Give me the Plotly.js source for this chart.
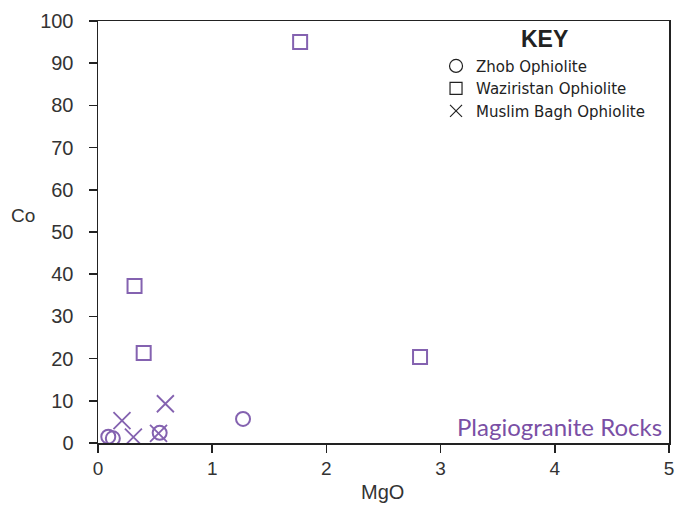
<!DOCTYPE html>
<html>
<head>
<meta charset="utf-8">
<script src="https://cdn.plot.ly/plotly-3.0.1.min.js"></script>
<style>body{margin:0;padding:0;background:#fff;}#chart{width:681px;height:509px;}</style>
</head>
<body>
<div id="chart"></div>
<script>
// Data
const zhobMgO = [0.09, 0.13, 0.54, 1.27];
const zhobCo = [1.5, 1.1, 2.4, 5.7];
const wazMgO = [1.77, 0.32, 0.40, 2.82];
const wazCo = [95, 37.2, 21.3, 20.4];
const muslimMgO = [0.21, 0.59, 0.31, 0.53];
const muslimCo = [5.3, 9.3, 1.4, 2.3];
const seriesNames = ["Zhob Ophiolite", "Waziristan Ophiolite", "Muslim Bagh Ophiolite"];

const purple = "#8462b0";
const markerBase = {color: purple, size: 14, line: {color: purple, width: 2}};

const traces = [
  {x: zhobMgO, y: zhobCo, mode: "markers", type: "scatter", showlegend: false,
   marker: Object.assign({}, markerBase, {symbol: "circle-open"})},
  {x: wazMgO, y: wazCo, mode: "markers", type: "scatter", showlegend: false,
   marker: Object.assign({}, markerBase, {symbol: "square-open", size: 14})},
  {x: muslimMgO, y: muslimCo, mode: "markers", type: "scatter", showlegend: false,
   marker: Object.assign({}, markerBase, {symbol: "x-thin-open", size: 17, line: {color: purple, width: 1.8}})},
  // legend-only entries (black symbols like in the KEY)
  {x: [null], y: [null], mode: "markers", type: "scatter", name: seriesNames[0],
   marker: {symbol: "circle-open", size: 13, color: "#222", line: {color: "#222", width: 1.2}}},
  {x: [null], y: [null], mode: "markers", type: "scatter", name: seriesNames[1],
   marker: {symbol: "square-open", size: 12, color: "#222", line: {color: "#222", width: 1.2}}},
  {x: [null], y: [null], mode: "markers", type: "scatter", name: seriesNames[2],
   marker: {symbol: "x-thin-open", size: 12, color: "#222", line: {color: "#222", width: 1.2}}}
];

const layout = {
  width: 681, height: 509,
  margin: {l: 98, r: 12, t: 21, b: 66},
  paper_bgcolor: "#fff", plot_bgcolor: "#fff",
  font: {family: "Arial, Liberation Sans, sans-serif", color: "#333"},
  xaxis: {range: [0, 5], dtick: 1, showgrid: false, zeroline: false,
    showline: true, linecolor: "#222", linewidth: 1.5, mirror: true,
    ticks: "outside", ticklen: 8, tickcolor: "#222", tickwidth: 1.5,
    tickfont: {size: 19, color: "#333"}},
  yaxis: {range: [0, 100], dtick: 10, showgrid: false, zeroline: false,
    showline: true, linecolor: "#222", linewidth: 1.5, mirror: true,
    ticks: "outside", ticklen: 8, tickcolor: "#222", tickwidth: 1.5,
    ticklabelstandoff: 11,
    tickfont: {size: 20, color: "#333"}},
  legend: {x: 0.592, y: 0.932, xanchor: "left", yanchor: "top",
    bgcolor: "rgba(0,0,0,0)", font: {family: "'DejaVu Sans', sans-serif", size: 15, color: "#222"},
    itemwidth: 30, tracegroupgap: 0},
  annotations: [
    {text: "KEY", xref: "paper", yref: "paper", x: 0.782, y: 0.957, xanchor: "center", yanchor: "middle",
     showarrow: false, font: {family: "Arial, sans-serif", size: 23, color: "#222", weight: "bold"}},
    {text: "Plagiogranite Rocks", xref: "paper", yref: "paper", x: 0.992, y: 0.038, xanchor: "right", yanchor: "middle",
     showarrow: false, font: {family: "Lato, Open Sans, sans-serif", size: 24, color: "#7a4fa5"}},
    {text: "Co", xref: "paper", yref: "paper", x: -0.132, y: 0.538, xanchor: "center", yanchor: "middle",
     showarrow: false, font: {size: 19, color: "#333"}},
    {text: "MgO", xref: "paper", yref: "paper", x: 0.498, y: -0.115, xanchor: "center", yanchor: "middle",
     showarrow: false, font: {size: 20, color: "#333"}}
  ]
};

Plotly.newPlot("chart", traces, layout, {displayModeBar: false, staticPlot: true});
</script>
</body>
</html>
